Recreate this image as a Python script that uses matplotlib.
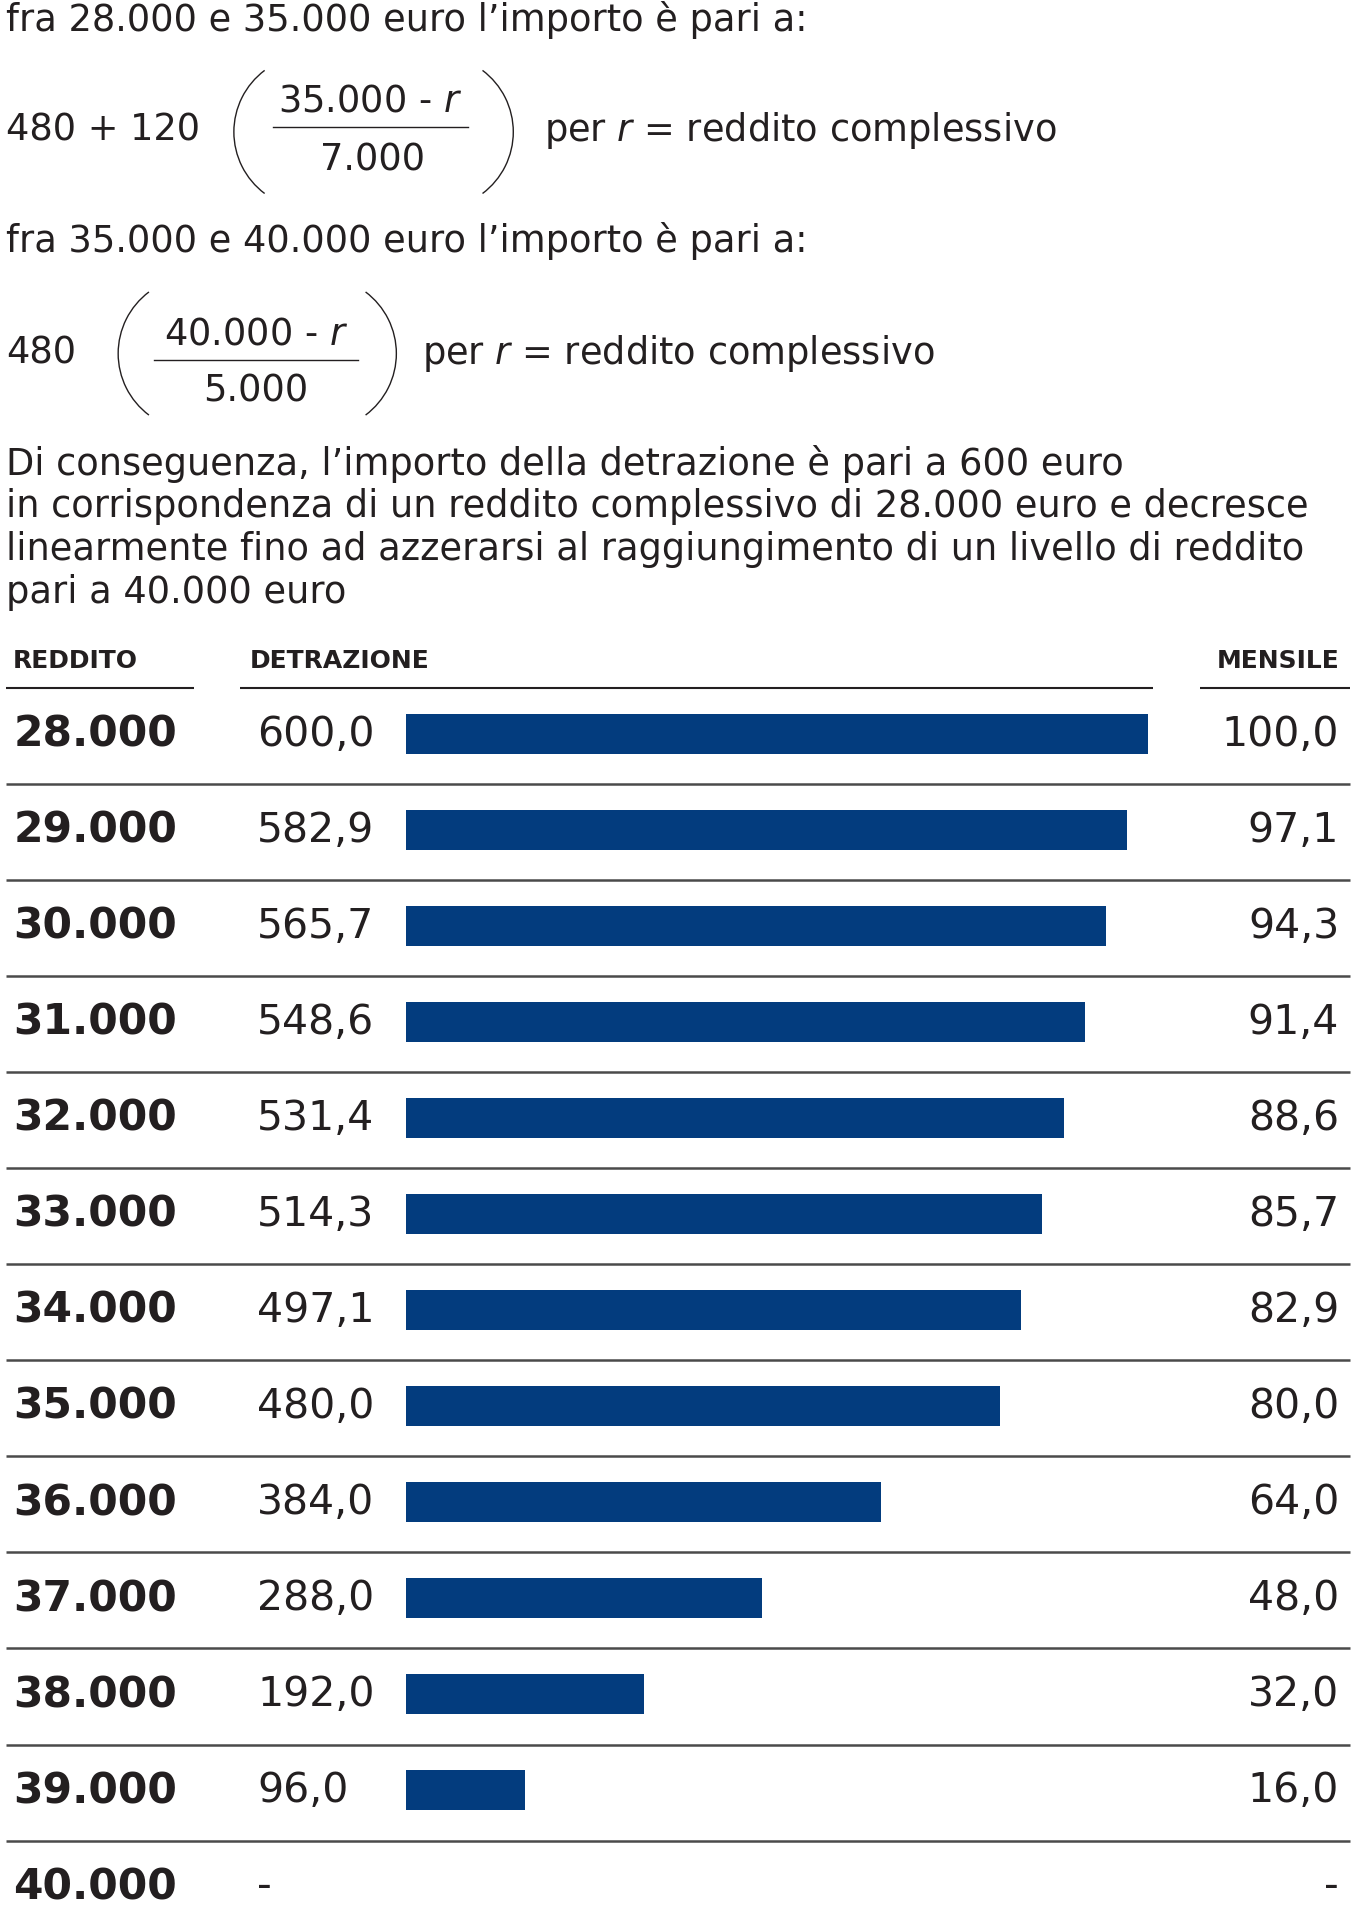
import math
import matplotlib.pyplot as plt
from matplotlib.patches import Arc

# dati
redditi = ['28.000', '29.000', '30.000', '31.000', '32.000', '33.000', '34.000',
           '35.000', '36.000', '37.000', '38.000', '39.000', '40.000']
detrazione = [600.0, 582.9, 565.7, 548.6, 531.4, 514.3, 497.1,
              480.0, 384.0, 288.0, 192.0, 96.0, 0.0]
mensile = [100.0, 97.1, 94.3, 91.4, 88.6, 85.7, 82.9,
           80.0, 64.0, 48.0, 32.0, 16.0, 0.0]

paragrafo = [
    'Di conseguenza, l’importo della detrazione è pari a 600 euro',
    'in corrispondenza di un reddito complessivo di 28.000 euro e decresce',
    'linearmente fino ad azzerarsi al raggiungimento di un livello di reddito',
    'pari a 40.000 euro',
]

BLU = '#033c7e'
TXT = '#231f20'
LINEA = '#4a4a4a'

def fmt(v):
    if v == 0:
        return '-'
    return f'{v:.1f}'.replace('.', ',')

plt.rcParams['font.family'] = ['DejaVu Sans']

W, H = 1100, 1563  # coordinate di lavoro
fig = plt.figure(figsize=(13.54, 19.24), dpi=100)
ax = fig.add_axes([0, 0, 1, 1])
ax.set_xlim(0, W)
ax.set_ylim(H, 0)
ax.axis('off')

fs = 26.5

def parentesi(x0, yc, left=True):
    # parentesi tonda disegnata come arco sottile
    h, s = 100, 25
    R = (h * h / 4 + s * s) / (2 * s)
    a = math.degrees(math.asin((h / 2) / R))
    if left:
        arc = Arc((x0 + R, yc), 2 * R, 2 * R, theta1=180 - a, theta2=180 + a,
                  color=TXT, lw=1)
    else:
        arc = Arc((x0 - R, yc), 2 * R, 2 * R, theta1=-a, theta2=a, color=TXT, lw=1)
    ax.add_patch(arc)

# prima formula
ax.text(5, 16, 'fra 28.000 e 35.000 euro l’importo è pari a:', fontsize=fs,
        color=TXT, va='center')
ax.text(5, 106, '480 + 120', fontsize=fs, color=TXT, va='center')
parentesi(190, 108, True)
ax.text(301, 82, '35.000 - $\\it{r}$', fontsize=fs, color=TXT, va='center', ha='center')
ax.plot([222, 380], [104, 104], color=TXT, lw=1)
ax.text(303, 130, '7.000', fontsize=fs, color=TXT, va='center', ha='center')
parentesi(417, 108, False)
ax.text(442, 106, 'per $\\it{r}$ = reddito complessivo', fontsize=fs, color=TXT, va='center')

# seconda formula
ax.text(5, 196, 'fra 35.000 e 40.000 euro l’importo è pari a:', fontsize=fs,
        color=TXT, va='center')
ax.text(5, 287, '480', fontsize=fs, color=TXT, va='center')
parentesi(96, 288, True)
ax.text(208, 271, '40.000 - $\\it{r}$', fontsize=fs, color=TXT, va='center', ha='center')
ax.plot([125, 291], [293, 293], color=TXT, lw=1)
ax.text(208, 318, '5.000', fontsize=fs, color=TXT, va='center', ha='center')
parentesi(322, 288, False)
ax.text(343, 287, 'per $\\it{r}$ = reddito complessivo', fontsize=fs, color=TXT, va='center')

# paragrafo
for i, riga in enumerate(paragrafo):
    ax.text(5, 377 + 34.7 * i, riga, fontsize=fs, color=TXT, va='center')

# intestazioni tabella
hfs = 18
ax.text(10, 537, 'REDDITO', fontsize=hfs, fontweight='bold', color=TXT, va='center')
ax.text(203, 537, 'DETRAZIONE', fontsize=hfs, fontweight='bold', color=TXT, va='center')
ax.text(1088, 537, 'MENSILE', fontsize=hfs, fontweight='bold', color=TXT,
        va='center', ha='right')
for x0, x1 in [(5, 158), (195, 937), (975, 1097)]:
    ax.plot([x0, x1], [560, 560], color=TXT, lw=1.5, solid_capstyle='butt')

# righe
y0, dy = 597, 78
for i, r in enumerate(redditi):
    y = y0 + dy * i
    ax.text(11, y, r, fontsize=30.5, fontweight='bold', color=TXT, va='center')
    ax.text(209, y, fmt(detrazione[i]), fontsize=29.5, color=TXT, va='center')
    ax.text(1088, y, fmt(mensile[i]), fontsize=29.5, color=TXT, va='center', ha='right')
    if i < len(redditi) - 1:
        ax.plot([5, 1097], [y + 41, y + 41], color=LINEA, lw=1.8, solid_capstyle='butt')

# barre su un asse dedicato
n = len(redditi) - 1
top = y0 - dy / 2
bx = fig.add_axes([330 / W, 1 - (top + n * dy) / H, 603 / W, n * dy / H])
bx.barh(range(n), detrazione[:n], height=32 / dy, color=BLU)
bx.set_xlim(0, 600)
bx.set_ylim(n - 0.5, -0.5)
bx.axis('off')

fig.savefig('out.png', dpi=100)
